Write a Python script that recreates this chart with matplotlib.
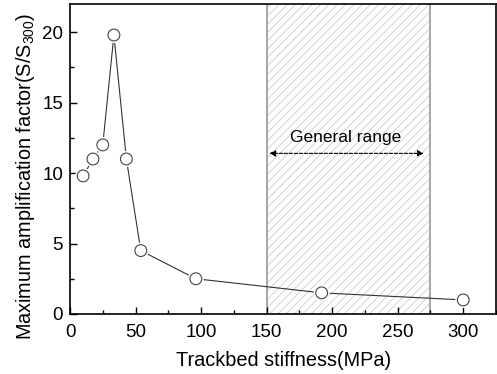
import matplotlib
matplotlib.use("Agg")
import matplotlib.pyplot as plt
import matplotlib.patheffects as pe
from matplotlib.patches import Rectangle
from matplotlib.ticker import MultipleLocator

stiffness = [10, 17.5, 25, 33.5, 43, 54, 96, 192, 300]
amplification = [9.8, 11.0, 12.0, 19.8, 11.0, 4.5, 2.5, 1.5, 1.0]
range_lo, range_hi = 150, 275
range_label = "General range"

plt.rcParams['font.family'] = ['Liberation Sans', 'DejaVu Sans']
plt.rcParams['mathtext.fontset'] = 'custom'
plt.rcParams['mathtext.rm'] = 'Liberation Sans'
plt.rcParams['mathtext.it'] = 'Liberation Sans:italic'
plt.rcParams['hatch.linewidth'] = 0.5

fig = plt.figure(figsize=(4.97, 3.74), dpi=100)
ax = fig.add_axes([70/497, 60/374, 426/497, 310/374])

ax.add_patch(Rectangle((range_lo, 0), range_hi - range_lo, 22, facecolor='white',
                       edgecolor='#c4c4c4', hatch='////', linewidth=0, zorder=0))
ax.axvline(range_lo, color='#a0a0a0', lw=1.3, zorder=1)
ax.axvline(range_hi, color='#a0a0a0', lw=1.3, zorder=1)

ax.annotate('', xy=(range_lo, 11.4), xytext=(range_hi - 3, 11.4),
            arrowprops=dict(arrowstyle='<|-|>', color='black', lw=0.8,
                            linestyle=(0, (3, 1.5)), mutation_scale=9), zorder=3)
ax.text((range_lo + range_hi) / 2 - 2, 12.0, range_label, ha='center', va='bottom', fontsize=12.5, zorder=3)

ax.plot(stiffness, amplification, color='#333333', lw=0.8, zorder=4)
ax.plot(stiffness, amplification, ls='none', marker='o', ms=8.5, mfc='white', mec='#444444',
        mew=0.8, zorder=5,
        path_effects=[pe.Stroke(linewidth=3, foreground='white'), pe.Normal()])

ax.set_xlim(0, 325)
ax.set_ylim(0, 22)
ax.xaxis.set_major_locator(MultipleLocator(50))
ax.xaxis.set_minor_locator(MultipleLocator(25))
ax.yaxis.set_major_locator(MultipleLocator(5))
ax.yaxis.set_minor_locator(MultipleLocator(2.5))
ax.tick_params(which='both', direction='in', top=False, right=False, labelsize=13.5, width=1)
ax.tick_params(axis='x', pad=7)
ax.tick_params(axis='y', pad=5)
ax.tick_params(which='major', length=5)
ax.tick_params(which='minor', length=3)
for s in ax.spines.values():
    s.set_linewidth(1.2)

ax.set_xlabel('Trackbed stiffness(MPa)', fontsize=14.3)
ax.set_ylabel('Maximum amplification factor(S/S$_{300}$)', fontsize=14.3)
ax.xaxis.set_label_coords((283.5 - 70) / 426, (314 - 361) / 310)
ax.yaxis.set_label_coords((26 - 70) / 426, (314 - 176) / 310)
ax.xaxis.label.set_va('center')
ax.yaxis.label.set_va('center')

fig.savefig('out.png', dpi=100)
